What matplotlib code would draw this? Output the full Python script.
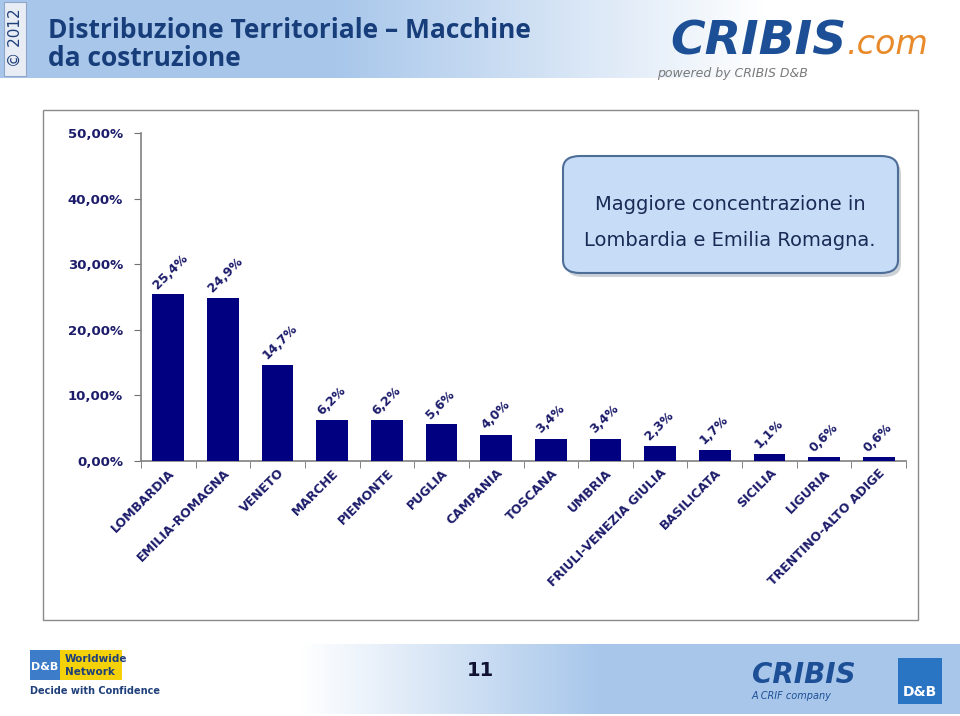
import matplotlib
matplotlib.use("Agg")
import matplotlib.pyplot as plt
import numpy as np
from matplotlib.patches import FancyBboxPatch, Rectangle

regions = ["LOMBARDIA", "EMILIA-ROMAGNA", "VENETO", "MARCHE", "PIEMONTE", "PUGLIA",
           "CAMPANIA", "TOSCANA", "UMBRIA", "FRIULI-VENEZIA GIULIA", "BASILICATA",
           "SICILIA", "LIGURIA", "TRENTINO-ALTO ADIGE"]
shares = [25.4, 24.9, 14.7, 6.2, 6.2, 5.6, 4.0, 3.4, 3.4, 2.3, 1.7, 1.1, 0.6, 0.6]
value_labels = ["25,4%", "24,9%", "14,7%", "6,2%", "6,2%", "5,6%", "4,0%", "3,4%",
                "3,4%", "2,3%", "1,7%", "1,1%", "0,6%", "0,6%"]
yticks = [0, 10, 20, 30, 40, 50]
ytick_labels = ["0,00%", "10,00%", "20,00%", "30,00%", "40,00%", "50,00%"]

NAVY = "#000080"
TXT = "#1c1c6b"
W, H = 960, 716
fig = plt.figure(figsize=(W / 100, H / 100), dpi=100)
fig.patch.set_facecolor("white")

def fx(px):
    return px / W

def fy(py):
    return 1 - py / H

# Header gradient band
bg = fig.add_axes([0, fy(78), 1, 78 / H], zorder=0)
grad = np.linspace(0, 1, 256)
cols = np.zeros((1, 256, 3))
c1 = np.array([0.66, 0.78, 0.92])
c2 = np.array([1.0, 1.0, 1.0])
for i, g in enumerate(grad):
    t = min(1.0, max(0.0, (g - 0.35) / 0.45))
    cols[0, i] = c1 * (1 - t) + c2 * t
bg.imshow(cols, aspect="auto", extent=[0, 1, 0, 1])
bg.set_xlim(0, 1); bg.set_ylim(0, 1); bg.axis("off")

# footer gradient band
fb = fig.add_axes([fx(300), fy(714), fx(960 - 300), 70 / H], zorder=0)
cols2 = np.zeros((1, 256, 3))
for i, g in enumerate(grad):
    t = min(1.0, max(0.0, (g - 0.0) / 0.45))
    cols2[0, i] = c2 * (1 - t) + c1 * t
fb.imshow(cols2, aspect="auto", extent=[0, 1, 0, 1])
fb.axis("off")

# copyright strip
fig.patches.append(Rectangle((fx(4), fy(76)), fx(22), 74 / H, transform=fig.transFigure,
                             facecolor="#e8edf5", edgecolor="#8fa6c8", lw=0.8, zorder=1))
fig.text(fx(15), fy(38), "© 2012", rotation=90, ha="center", va="center",
         fontsize=11, color="#1f3f7a", family="DejaVu Sans")

fig.text(fx(48), fy(30), "Distribuzione Territoriale – Macchine", fontsize=19,
         fontweight="bold", color="#173e7a", ha="left", va="center", family="Open Sans")
fig.text(fx(48), fy(58), "da costruzione", fontsize=19,
         fontweight="bold", color="#173e7a", ha="left", va="center", family="Open Sans")

# CRIBIS logo (text)
fig.text(fx(670), fy(42), "CRIBIS", fontsize=34, fontweight="bold", style="italic",
         color="#1c4f96", ha="left", va="center", family="DejaVu Sans")
fig.text(fx(846), fy(45), ".com", fontsize=24, style="italic",
         color="#e8892a", ha="left", va="center", family="DejaVu Sans")
fig.text(fx(657), fy(74), "powered by CRIBIS D&B", fontsize=9, style="italic",
         color="#7a7a7a", ha="left", va="center", family="DejaVu Sans")

# chart frame
fig.patches.append(Rectangle((fx(43), fy(620)), fx(918 - 43), (620 - 110) / H,
                             transform=fig.transFigure, facecolor="none",
                             edgecolor="#8a8a8a", lw=1.0, zorder=1))

ax = fig.add_axes([fx(141), fy(461), fx(906 - 141), (461 - 133) / H], zorder=2)
ax.set_facecolor("none")
x = np.arange(len(regions))
ax.bar(x, shares, width=0.58, color=NAVY, zorder=3)
ax.set_xlim(-0.5, len(regions) - 0.5)
ax.set_ylim(0, 50)
ax.set_yticks(yticks)
ax.set_yticklabels(ytick_labels, fontsize=9.5, fontweight="bold", color=TXT,
                   family="DejaVu Sans")
ax.set_xticks(x)
ax.set_xticklabels(regions, rotation=45, ha="right", rotation_mode="anchor",
                   fontsize=9, fontweight="bold", color=TXT, family="DejaVu Sans")
for lbl in ax.get_xticklabels():
    lbl.set_transform(lbl.get_transform() +
                      matplotlib.transforms.ScaledTranslation(10 / 100, -6 / 100, fig.dpi_scale_trans))
ax.set_xticks(np.arange(len(regions) + 1) - 0.5, minor=True)
ax.tick_params(axis="x", which="major", length=0, pad=4)
ax.tick_params(axis="x", which="minor", length=5, color="#707070", direction="out")
ax.tick_params(axis="y", length=5, color="#707070", direction="out", pad=8)
for s in ["top", "right"]:
    ax.spines[s].set_visible(False)
for s in ["left", "bottom"]:
    ax.spines[s].set_color("#808080")
    ax.spines[s].set_linewidth(1.2)

for xi, v, t in zip(x, shares, value_labels):
    ax.annotate(t, (xi, v), xytext=(-6, 2), textcoords="offset points",
                rotation=45, ha="left", va="bottom", rotation_mode="anchor",
                fontsize=9, fontweight="bold", color=TXT, family="DejaVu Sans")

# call-out box with shadow
shadow = FancyBboxPatch((fx(566), fy(277)), fx(898 - 563), (273 - 156) / H,
                        boxstyle="round,pad=0,rounding_size=0.018",
                        transform=fig.transFigure, facecolor="#9aa4b0",
                        edgecolor="none", alpha=0.5, zorder=3)
fig.patches.append(shadow)
box = FancyBboxPatch((fx(563), fy(273)), fx(898 - 563), (273 - 156) / H,
                     boxstyle="round,pad=0,rounding_size=0.018",
                     transform=fig.transFigure, facecolor="#c6dcf7",
                     edgecolor="#4e6e98", lw=1.5, zorder=4)
fig.patches.append(box)
fig.text(fx(730), fy(204), "Maggiore concentrazione in", fontsize=14, color="#1b2a55",
         ha="center", va="center", family="DejaVu Sans", zorder=5)
fig.text(fx(730), fy(240), "Lombardia e Emilia Romagna.", fontsize=14, color="#1b2a55",
         ha="center", va="center", family="DejaVu Sans", zorder=5)

# footer
fig.patches.append(Rectangle((fx(30), fy(680)), fx(30), 30 / H, transform=fig.transFigure,
                             facecolor="#3d7cc9", edgecolor="none", zorder=3))
fig.text(fx(45), fy(667), "D&B", fontsize=8, fontweight="bold", color="white",
         ha="center", va="center", zorder=4)
fig.patches.append(Rectangle((fx(60), fy(680)), fx(62), 30 / H, transform=fig.transFigure,
                             facecolor="#f5d10a", edgecolor="none", zorder=3))
fig.text(fx(65), fy(659), "Worldwide", fontsize=7.5, fontweight="bold", color="#1f3f7a",
         ha="left", va="center", zorder=4)
fig.text(fx(65), fy(672), "Network", fontsize=7.5, fontweight="bold", color="#1f3f7a",
         ha="left", va="center", zorder=4)
fig.text(fx(30), fy(691), "Decide with Confidence", fontsize=7, fontweight="bold",
         color="#1f3f7a", ha="left", va="center")
fig.text(fx(480), fy(671), "11", fontsize=14, fontweight="bold", color="#111133",
         ha="center", va="center")
fig.text(fx(752), fy(675), "CRIBIS", fontsize=20, fontweight="bold", style="italic",
         color="#1c4f96", ha="left", va="center")
fig.text(fx(752), fy(696), "A CRIF company", fontsize=7, style="italic",
         color="#1c4f96", ha="left", va="center")
fig.patches.append(Rectangle((fx(898), fy(704)), fx(44), 46 / H, transform=fig.transFigure,
                             facecolor="#2a74c4", edgecolor="none", zorder=3))
fig.text(fx(920), fy(692), "D&B", fontsize=10, fontweight="bold", color="white",
         ha="center", va="center", zorder=4)

fig.savefig("out.png", dpi=100, facecolor="white")
